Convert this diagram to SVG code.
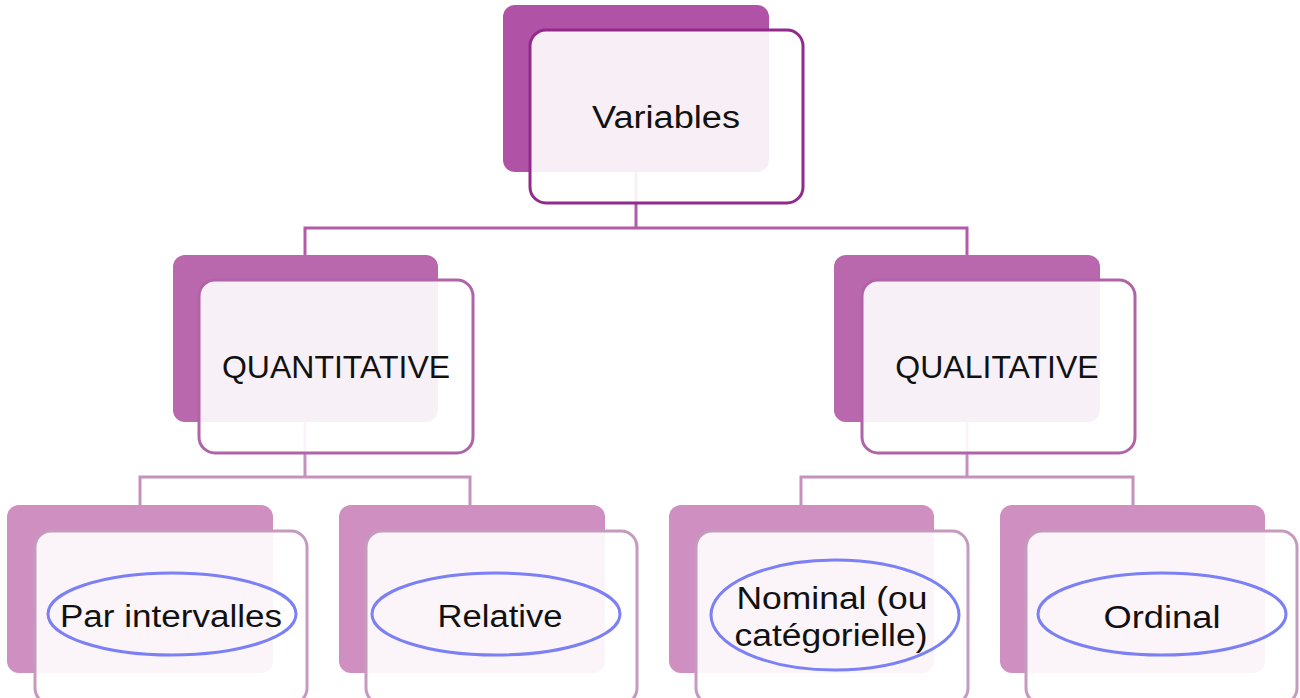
<svg xmlns="http://www.w3.org/2000/svg" width="1300" height="698" viewBox="0 0 1300 698">
<style>
.front{fill:#ffffff;fill-opacity:0.9;stroke-width:3}
.t{font-family:"Liberation Sans",Arial,sans-serif;fill:#111111;text-anchor:middle}
.ell{fill:none;stroke:#7b80f5;stroke-width:3}
.c1{fill:none;stroke:#b35aa8;stroke-width:3}
.c2{fill:none;stroke:#c592bd;stroke-width:3}
</style>
<rect width="1300" height="698" fill="#ffffff"/>
<g id="connectors">
<path class="c1" d="M636 172 V228 M305 228 H967 M305 226.5 V255 M967 226.5 V255"/>
<path class="c2" d="M305 422 V477 M140 477 H470 M140 475.5 V505 M470 475.5 V505"/>
<path class="c2" d="M967 422 V477 M801 477 H1133 M801 475.5 V505 M1133 475.5 V505"/>
</g>
<g id="variables">
<rect x="503" y="5" width="266" height="167" rx="12" fill="#b052a5"/>
<rect class="front" x="530" y="30" width="273" height="173" rx="16" stroke="#912a8c"/>
<text class="t" x="666" y="128" font-size="31" textLength="148" lengthAdjust="spacingAndGlyphs">Variables</text>
</g>
<g id="quantitative">
<rect x="173" y="255" width="265" height="167" rx="12" fill="#b968ae"/>
<rect class="front" x="199" y="280" width="274" height="173" rx="16" stroke="#b163a7"/>
<text class="t" x="336" y="378" font-size="32">QUANTITATIVE</text>
</g>
<g id="qualitative">
<rect x="834" y="255" width="266" height="167" rx="12" fill="#b968ae"/>
<rect class="front" x="862" y="280" width="273" height="173" rx="16" stroke="#b163a7"/>
<text class="t" x="997" y="378" font-size="32">QUALITATIVE</text>
</g>
<g id="par-intervalles">
<rect x="7" y="505" width="266" height="168" rx="12" fill="#d08fc1"/>
<rect class="front" x="35" y="531" width="272" height="173" rx="16" stroke="#c49bbe"/>
<ellipse class="ell" cx="172" cy="614" rx="124" ry="41"/>
<text class="t" x="171" y="627" font-size="31" textLength="222" lengthAdjust="spacingAndGlyphs">Par intervalles</text>
</g>
<g id="relative">
<rect x="339" y="505" width="266" height="168" rx="12" fill="#d08fc1"/>
<rect class="front" x="366" y="531" width="271" height="173" rx="16" stroke="#c49bbe"/>
<ellipse class="ell" cx="496" cy="614" rx="124" ry="41"/>
<text class="t" x="500" y="627" font-size="31" textLength="125" lengthAdjust="spacingAndGlyphs">Relative</text>
</g>
<g id="nominal">
<rect x="669" y="505" width="265" height="168" rx="12" fill="#d08fc1"/>
<rect class="front" x="696" y="531" width="272" height="173" rx="16" stroke="#c49bbe"/>
<ellipse class="ell" cx="835" cy="615" rx="124" ry="55"/>
<text class="t" x="832" y="609" font-size="31" textLength="191" lengthAdjust="spacingAndGlyphs">Nominal (ou</text>
<text class="t" x="831" y="646" font-size="31" textLength="193" lengthAdjust="spacingAndGlyphs">catégorielle)</text>
</g>
<g id="ordinal">
<rect x="1000" y="505" width="265" height="168" rx="12" fill="#d08fc1"/>
<rect class="front" x="1026" y="531" width="271" height="173" rx="16" stroke="#c49bbe"/>
<ellipse class="ell" cx="1162" cy="614" rx="124" ry="41"/>
<text class="t" x="1162" y="628" font-size="31" textLength="117" lengthAdjust="spacingAndGlyphs">Ordinal</text>
</g>
</svg>
